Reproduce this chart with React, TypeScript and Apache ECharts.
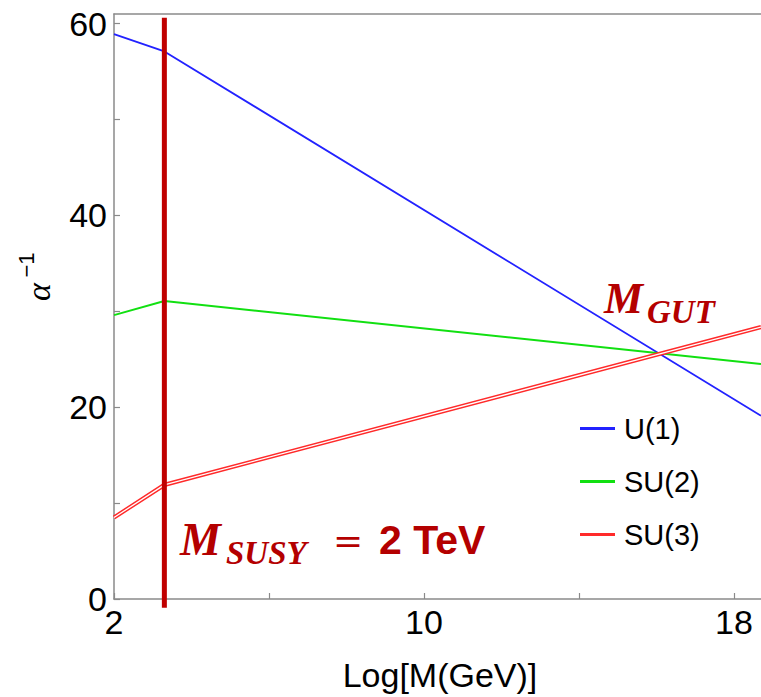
import React, { useEffect, useRef } from "react";
import * as echarts from "echarts";

const xPoints = [2, 3.3, 18.7];
const u1 = [58.9, 57.1, 19.1];
const su2 = [29.6, 31.07, 24.5];
const su3 = [8.5, 11.9, 28.35];
const mSusyX = 3.3;
const mSusySpan = [-0.9, 60.6];
const xTicks = [2, 6, 10, 14, 18];
const xLabels = [2, 10, 18];
const yTicks = [0, 10, 20, 30, 40, 50, 60];
const yLabels = [0, 20, 40, 60];
const seriesNames = ["U(1)", "SU(2)", "SU(3)"];
const seriesColors = ["#2222ff", "#11e011", "#ff2a2a"];

const pair = (ys: number[]) => xPoints.map((x, i) => [x, ys[i]]);

export default function App() {
  const ref = useRef<HTMLDivElement>(null);
  useEffect(() => {
    if (!ref.current) return;
    const chart = echarts.init(ref.current, null, { renderer: "svg" });
    const axisGray = "#8a8a8a";
    const darkRed = "#b40000";
    const legendIcon = "path://M0,0L35,0L35,3L0,3Z";
    const option: any = {
      animation: false,
      grid: { left: 114, right: 0, top: 14, bottom: 98 },
      legend: {
        data: seriesNames.map((name, i) => ({
          name,
          icon: legendIcon,
          itemStyle: { color: seriesColors[i], borderColor: seriesColors[i], borderWidth: 0, opacity: 1 },
          lineStyle: { color: seriesColors[i], width: 0, opacity: 0 },
        })),
        orient: "vertical",
        left: 580,
        top: 414,
        padding: 0,
        itemWidth: 35,
        itemHeight: 3,
        itemGap: 24,
        z: 10,
        textStyle: {
          fontSize: 29,
          fontFamily: "Liberation Sans, Arial, sans-serif",
          color: "#000",
          padding: [0, 0, 0, 4],
        },
      },
      xAxis: [
        {
          type: "value",
          min: 2,
          max: 18.7,
          axisLine: { show: true, onZero: false, lineStyle: { color: axisGray, width: 1.5 } },
          axisTick: { show: true, inside: true, length: 6, customValues: xTicks, lineStyle: { color: axisGray, width: 1.2 } },
          axisLabel: {
            customValues: xLabels,
            fontSize: 34,
            fontFamily: "Liberation Sans, Arial, sans-serif",
            color: "#000",
            margin: 6,
          },
          splitLine: { show: false },
        },
        {
          type: "value",
          position: "top",
          min: 2,
          max: 18.7,
          axisLine: { show: true, onZero: false, lineStyle: { color: axisGray, width: 1.5 } },
          axisTick: { show: false },
          axisLabel: { show: false },
          splitLine: { show: false },
        },
      ],
      yAxis: {
        type: "value",
        min: 0,
        max: 61,
        axisLine: { show: true, onZero: false, lineStyle: { color: axisGray, width: 1.5 } },
        axisTick: { show: true, inside: true, length: 6, customValues: yTicks, lineStyle: { color: axisGray, width: 1.2 } },
        axisLabel: {
          customValues: yLabels,
          fontSize: 34,
          fontFamily: "Liberation Sans, Arial, sans-serif",
          color: "#000",
          margin: 7,
        },
        splitLine: { show: false },
      },
      series: [
        {
          name: "U(1)",
          type: "line",
          data: pair(u1),
          symbol: "none",
          lineStyle: { color: seriesColors[0], width: 1.8 },
          itemStyle: { color: seriesColors[0], borderWidth: 0 },
        },
        {
          name: "SU(2)",
          type: "line",
          data: pair(su2),
          symbol: "none",
          lineStyle: { color: seriesColors[1], width: 2 },
          itemStyle: { color: seriesColors[1], borderWidth: 0 },
        },
        {
          name: "SU(3)",
          type: "line",
          data: pair(su3),
          symbol: "none",
          lineStyle: { color: seriesColors[2], width: 4.2 },
          itemStyle: { color: seriesColors[2], borderWidth: 0 },
        },
        {
          name: "core3",
          type: "line",
          data: pair(su3),
          symbol: "none",
          legendHoverLink: false,
          lineStyle: { color: "#ffffff", width: 1.3 },
          silent: true,
        },
        {
          name: "MSUSY",
          type: "line",
          data: mSusySpan.map((y) => [mSusyX, y]),
          symbol: "none",
          clip: false,
          lineStyle: { color: "#c00000", width: 5 },
          silent: true,
        },
      ],
      graphic: [
        {
          type: "text",
          x: 180,
          y: 539,
          style: {
            text: "M",
            font: "italic bold 46px 'Liberation Serif', serif",
            fill: darkRed,
            align: "left",
            verticalAlign: "middle",
          },
        },
        {
          type: "text",
          x: 226,
          y: 553,
          style: {
            text: "SUSY",
            font: "italic bold 33px 'Liberation Serif', serif",
            fill: darkRed,
            align: "left",
            verticalAlign: "middle",
          },
        },
        {
          type: "text",
          x: 333,
          y: 540,
          style: {
            text: "=",
            font: "36px 'DejaVu Serif', serif",
            fill: darkRed,
            align: "left",
            verticalAlign: "middle",
          },
        },
        {
          type: "text",
          x: 379,
          y: 540,
          style: {
            text: "2 TeV",
            font: "bold 41px 'Liberation Sans', Arial, sans-serif",
            fill: darkRed,
            align: "left",
            verticalAlign: "middle",
          },
        },
        {
          type: "text",
          x: 604,
          y: 298,
          style: {
            text: "M",
            font: "italic bold 44px 'Liberation Serif', serif",
            fill: darkRed,
            align: "left",
            verticalAlign: "middle",
          },
        },
        {
          type: "text",
          x: 647,
          y: 312,
          style: {
            text: "GUT",
            font: "italic bold 33px 'Liberation Serif', serif",
            fill: darkRed,
            align: "left",
            verticalAlign: "middle",
          },
        },
        {
          type: "text",
          x: 440,
          y: 675,
          style: {
            text: "Log[M(GeV)]",
            font: "34px 'Liberation Sans Narrow', 'Liberation Sans', Arial, sans-serif",
            fill: "#000",
            align: "center",
            verticalAlign: "middle",
          },
        },
        {
          type: "text",
          x: 38,
          y: 292,
          rotation: Math.PI / 2,
          style: {
            text: "α",
            font: "italic 34px 'Liberation Serif', serif",
            fill: "#000",
            align: "center",
            verticalAlign: "middle",
          },
        },
        {
          type: "text",
          x: 26,
          y: 265,
          rotation: Math.PI / 2,
          style: {
            text: "−1",
            font: "22px 'Liberation Sans', Arial, sans-serif",
            fill: "#000",
            align: "center",
            verticalAlign: "middle",
          },
        },
      ],
    };
    chart.setOption(option);
    return () => chart.dispose();
  }, []);
  return <div ref={ref} style={{ width: 761, height: 697, position: "absolute", left: 0, top: 0 }} />;
}
